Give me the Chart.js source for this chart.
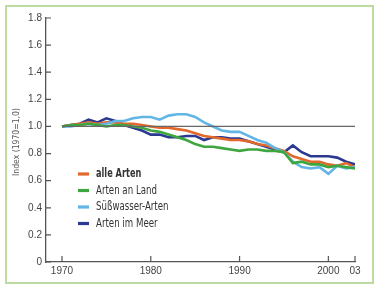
<!DOCTYPE html>
<html>
<head>
<meta charset="utf-8">
<script src="https://cdn.jsdelivr.net/npm/chart.js@4/dist/chart.umd.min.js"></script>
<style>
  body { margin: 0; background: #fff; }
  #frame { position: absolute; left: 5px; top: 5px; width: 365px; height: 275px; border: 2px solid #bcdba0; }
  #wrap { position: absolute; left: 0; top: 0; width: 375px; height: 288px; }
</style>
</head>
<body>
<div id="frame"></div>
<div id="wrap"><canvas id="chart" width="375" height="288"></canvas></div>
<script>
const years = [1970, 1971, 1972, 1973, 1974, 1975, 1976, 1977, 1978, 1979,
  1980, 1981, 1982, 1983, 1984, 1985, 1986, 1987, 1988, 1989,
  1990, 1991, 1992, 1993, 1994, 1995, 1996, 1997, 1998, 1999,
  2000, 2001, 2002, 2003];

const alleArten = [1.0, 1.01, 1.02, 1.03, 1.02, 1.03, 1.03, 1.02, 1.02, 1.01,
  1.0, 0.99, 0.99, 0.98, 0.97, 0.95, 0.93, 0.92, 0.91, 0.90,
  0.90, 0.89, 0.87, 0.86, 0.84, 0.82, 0.78, 0.76, 0.74, 0.74,
  0.72, 0.71, 0.73, 0.70];

const artenLand = [1.0, 1.01, 1.01, 1.02, 1.01, 1.0, 1.01, 1.01, 1.0, 0.99,
  0.97, 0.96, 0.94, 0.92, 0.90, 0.87, 0.85, 0.85, 0.84, 0.83,
  0.82, 0.83, 0.83, 0.82, 0.82, 0.81, 0.73, 0.74, 0.72, 0.72,
  0.70, 0.71, 0.70, 0.69];

const suesswasser = [1.0, 1.0, 1.01, 1.02, 1.01, 1.02, 1.04, 1.04, 1.06, 1.07,
  1.07, 1.05, 1.08, 1.09, 1.09, 1.07, 1.03, 1.0, 0.97, 0.96,
  0.96, 0.93, 0.90, 0.88, 0.84, 0.81, 0.74, 0.70, 0.69, 0.70,
  0.65, 0.71, 0.69, 0.70];

const artenMeer = [1.0, 1.01, 1.02, 1.05, 1.03, 1.06, 1.04, 1.01, 0.99, 0.97,
  0.94, 0.94, 0.92, 0.92, 0.93, 0.93, 0.90, 0.92, 0.92, 0.91,
  0.91, 0.89, 0.87, 0.85, 0.83, 0.81, 0.86, 0.81, 0.78, 0.78,
  0.78, 0.77, 0.74, 0.72];

const refYears = [1970, 2003];
const refValues = [1.0, 1.0];

const xTicks = [1970, 1980, 1990, 2000, 2003];
const yTicks = [0, 0.2, 0.4, 0.6, 0.8, 1.0, 1.2, 1.4, 1.6, 1.8];

const seriesNames = ['alle Arten', 'Arten an Land', 'Süßwasser-Arten', 'Arten im Meer'];
const seriesColors = ['#e2682c', '#3ea63e', '#62b6e6', '#2b3990'];

const toPoints = (xs, ys) => xs.map((x, i) => ({ x: x, y: ys[i] }));

const lineDs = (label, values, color) => ({
  label: label,
  data: toPoints(years, values),
  borderColor: color,
  borderWidth: 2.6,
  pointRadius: 0,
  tension: 0,
  fill: false,
});

// inward ticks, y title and legend drawn by hand
const decorations = {
  id: 'decorations',
  afterDraw(chart) {
    const ctx = chart.ctx;
    const xs = chart.scales.x;
    const ys = chart.scales.y;
    const area = chart.chartArea;
    ctx.save();
    ctx.strokeStyle = '#555';
    ctx.lineWidth = 1.2;
    ctx.beginPath();
    yTicks.forEach(v => {
      const py = ys.getPixelForValue(v);
      ctx.moveTo(area.left, py);
      ctx.lineTo(area.left + 5, py);
    });
    xTicks.forEach(v => {
      const px = xs.getPixelForValue(v);
      ctx.moveTo(px, area.bottom);
      ctx.lineTo(px, area.bottom - 6);
    });
    ctx.stroke();

    ctx.fillStyle = '#555';
    ctx.font = '9px "DejaVu Sans Condensed", sans-serif';
    ctx.textAlign = 'center';
    ctx.textBaseline = 'middle';
    ctx.translate(17, 142);
    ctx.rotate(-Math.PI / 2);
    ctx.scale(0.95, 1);
    ctx.fillText('Index (1970=1,0)', 0, 0);
    ctx.restore();

    ctx.save();
    ctx.textBaseline = 'middle';
    seriesNames.forEach((name, i) => {
      const y = 174 + i * 16.5;
      ctx.strokeStyle = seriesColors[i];
      ctx.lineWidth = 3.2;
      ctx.beginPath();
      ctx.moveTo(78, y);
      ctx.lineTo(89, y);
      ctx.stroke();
      ctx.save();
      ctx.fillStyle = '#333';
      ctx.font = (i === 0 ? 'bold ' : '') + '12px "DejaVu Sans Condensed", sans-serif';
      ctx.translate(96, y);
      ctx.scale(i === 0 ? 0.76 : 0.8, 1);
      ctx.fillText(name, 0, 0);
      ctx.restore();
    });
    ctx.restore();
  }
};

new Chart(document.getElementById('chart'), {
  type: 'line',
  data: {
    datasets: [
      {
        label: 'ref',
        data: toPoints(refYears, refValues),
        borderColor: '#666',
        borderWidth: 1.3,
        pointRadius: 0,
        fill: false,
      },
      lineDs(seriesNames[1], artenLand, seriesColors[1]),
      lineDs(seriesNames[2], suesswasser, seriesColors[2]),
      lineDs(seriesNames[0], alleArten, seriesColors[0]),
      lineDs(seriesNames[3], artenMeer, seriesColors[3]),
    ],
  },
  options: {
    responsive: false,
    animation: false,
    layout: { padding: { top: 18, right: 20, left: 0, bottom: 0 } },
    plugins: { legend: { display: false }, tooltip: { enabled: false } },
    scales: {
      x: {
        type: 'linear',
        min: 1968.2,
        max: 2003,
        afterBuildTicks: (scale) => { scale.ticks = xTicks.map(v => ({ value: v })); },
        afterFit: (scale) => { scale.height = 26; },
        grid: { display: false, drawTicks: false },
        border: { display: true, color: '#555', width: 1.3 },
        ticks: {
          color: '#444',
          padding: 3,
          maxRotation: 0,
          font: { size: 10, family: 'Liberation Sans' },
          callback: (v) => v === 2003 ? '03' : String(v),
        },
      },
      y: {
        min: 0,
        max: 1.8,
        afterBuildTicks: (scale) => { scale.ticks = yTicks.map(v => ({ value: v })); },
        afterFit: (scale) => { scale.width = 46; },
        grid: { display: false, drawTicks: false },
        border: { display: true, color: '#555', width: 1.3 },
        ticks: {
          color: '#444',
          padding: 4,
          font: { size: 10, family: 'Liberation Sans' },
          callback: (v) => v === 0 ? '0' : v.toFixed(1),
        },
      },
    },
  },
  plugins: [decorations],
});
</script>
</body>
</html>
